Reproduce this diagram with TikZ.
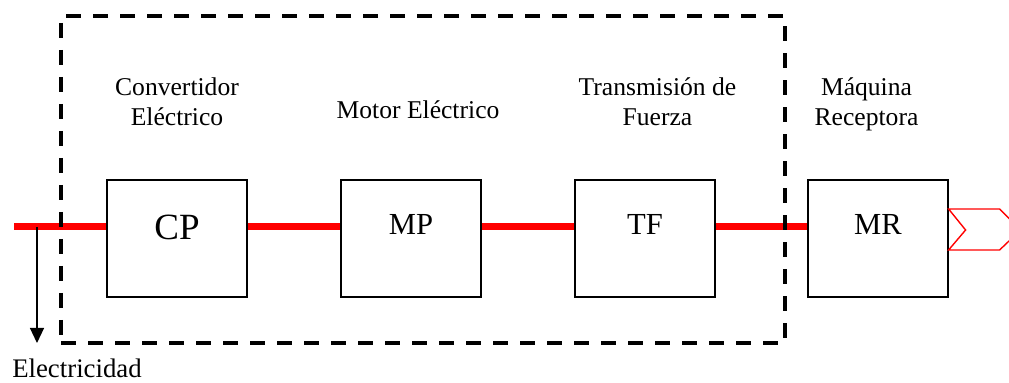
\documentclass[tikz,border=0pt]{standalone}
\usepackage{fontspec}
\setmainfont{Liberation Serif}
\usetikzlibrary{arrows.meta, positioning, calc}
\tikzset{
  block/.style={rectangle, draw=black, line width=0.6pt, minimum width=70pt, inner sep=0pt, text height=27.2pt, text depth=31.3pt, font=\fontsize{15.3}{18}\selectfont},
  caption/.style={align=center, inner sep=0pt, text depth=0pt, font=\fontsize{12.8}{15}\selectfont},
  power/.style={draw=red, line width=3.5pt},
  frame/.style={draw=black, line width=2pt, dash pattern=on 7.5pt off 6pt, inner sep=0pt, outer sep=0pt},
  arrow/.style={line width=0.6pt, -{Triangle[length=7.5pt, width=7pt]}},
  outlet/.style={draw=red, line width=0.7pt, line join=miter}
}

\begin{document}
\begin{tikzpicture}[x=0.5pt, y=-0.5pt, node distance=46.4pt]
\useasboundingbox (0,0) rectangle (1009,383);
\clip (0,0) rectangle (1009,383);
% blocks
\node[block, font=\fontsize{18.5}{22}\selectfont, text height=29.6pt, text depth=28.9pt] (cp) at (177,238.5) {CP};
\node[block, right=of cp] (mp) {MP};
\node[block, right=of mp] (tf) {TF};
\node[block, right=45.9pt of tf] (mr) {MR};

% captions
\node[caption, above=26.5pt of cp] (cp_t) {Convertidor\\Eléctrico};
\node[caption, above=30pt of mp, xshift=3.5pt] (mp_t) {Motor Eléctrico};
\node[caption, above=26.5pt of tf, xshift=6.25pt] (tf_t) {Transmisión de\\Fuerza};
\node[caption, above=26.5pt of mr, xshift=-5.75pt] (mr_t) {Máquina\\Receptora};

% power line
\coordinate (in) at (14,227);
\draw[power] (in) -- (in -| cp.west);
\foreach \a/\b in {cp/mp, mp/tf, tf/mr}
  \draw[power] (in -| \a.east) -- (in -| \b.west);

% frame
\node[frame, minimum width=362pt, minimum height=163.5pt] (box) at (423,179.5) {};

% electrical output
\coordinate (tap) at (37,227);
\draw[arrow] (tap) -- (tap |- box.south);
\node[font=\fontsize{13.4}{16}\selectfont, anchor=base] (elec) at (77,378) {Electricidad};

% mechanical output
\draw[outlet] ($(mr.east)+(0,-29.5)$) -- ++(51,0) -- ++(21,21) -- ++(-21,20) -- ++(-51,0) -- ++(17,-20) -- cycle;
\end{tikzpicture}
\end{document}
